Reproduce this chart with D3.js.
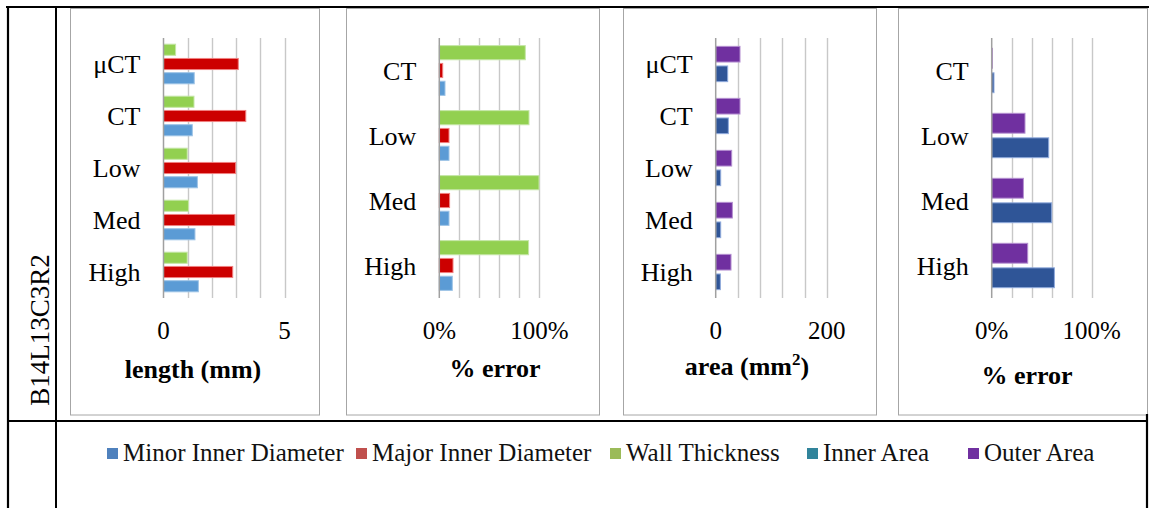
<!DOCTYPE html>
<html>
<head>
<meta charset="utf-8">
<script src="https://cdn.jsdelivr.net/npm/d3@7"></script>
<style>
  body { margin: 0; background: #fff; }
  svg { display: block; font-family: "Liberation Serif", "Times New Roman", serif; }
</style>
</head>
<body>
<div id="chart"></div>
<script>
// categories, listed top to bottom as they appear
const diamCats = ["μCT", "CT", "Low", "Med", "High"];
const errCats = ["CT", "Low", "Med", "High"];

// panel 1 : length (mm)
const minorDiam = [1.27, 1.19, 1.40, 1.30, 1.44];
const majorDiam = [3.09, 3.40, 2.98, 2.95, 2.86];
const wallThick = [0.50, 1.26, 0.98, 1.03, 0.98];

// panel 2 : % error of the lengths
const minorDiamErr = [0.057, 0.097, 0.097, 0.13];
const majorDiamErr = [0.034, 0.097, 0.103, 0.137];
const wallThickErr = [0.86, 0.897, 0.997, 0.893];

// panel 3 : area (mm2)
const innerArea = [21.6, 22.8, 9.0, 9.0, 8.4];
const outerArea = [43.8, 43.8, 28.8, 30.0, 27.6];

// panel 4 : % error of the areas
const innerAreaErr = [0.023, 0.57, 0.60, 0.627];
const outerAreaErr = [0.007, 0.333, 0.317, 0.36];

const seriesNames = ["Minor Inner Diameter", "Major Inner Diameter", "Wall Thickness", "Inner Area", "Outer Area"];
const legendColors = ["#4F81BD", "#C0504D", "#9BBB59", "#31849B", "#7030A0"];

const rowLabel = "B14L13C3R2";

const width = 1149, height = 508;
const svg = d3.select("#chart").append("svg")
    .attr("width", width)
    .attr("height", height);

// bar styles (fill, lighter outline)
const barStyle = {
    minor: { fill: "#5B9BD5", stroke: "#9DC3E6" },
    major: { fill: "#CC0000", stroke: "#F08080" },
    wall:  { fill: "#92D050", stroke: "#C5E6A6" },
    inner: { fill: "#2F5597", stroke: "#8FAADC" },
    outer: { fill: "#7030A0", stroke: "#B48FD0" }
};

const panels = [
    { box: [70, 320], ax: [163.5, 284.5], domain: [0, 5], step: 1, labels: [0, 5], fmt: d => d,
      cats: diamCats, series: [["wall", wallThick], ["major", majorDiam], ["minor", minorDiam]],
      title: "length (mm)", titleX: 193, titleY: 378 },
    { box: [346, 600], ax: [439.3, 539.3], domain: [0, 1], step: 0.2, labels: [0, 1], fmt: d3.format(".0%"),
      cats: errCats, series: [["wall", wallThickErr], ["major", majorDiamErr], ["minor", minorDiamErr]],
      title: "% error", titleX: 495, titleY: 377 },
    { box: [623, 877], ax: [715.7, 826.7], domain: [0, 200], step: 40, labels: [0, 200], fmt: d => d,
      cats: diamCats, series: [["outer", outerArea], ["inner", innerArea]],
      title: "area (mm", sup: "2", tail: ")", titleX: 747, titleY: 375 },
    { box: [898, 1148], ax: [991.7, 1091.7], domain: [0, 1], step: 0.2, labels: [0, 1], fmt: d3.format(".0%"),
      cats: errCats, series: [["outer", outerAreaErr], ["inner", innerAreaErr]],
      title: "% error", titleX: 1027, titleY: 384 }
];

const plotTop = 38, plotBottom = 298;

panels.forEach(p => {
    const g = svg.append("g");

    // panel frame
    g.append("rect")
        .attr("x", p.box[0] + 0.5).attr("y", 8.5)
        .attr("width", p.box[1] - p.box[0] - 1).attr("height", 415 - 8.5)
        .attr("fill", "#fff").attr("stroke", "#A6A6A6").attr("stroke-width", 1);

    const x = d3.scaleLinear().domain(p.domain).range(p.ax);
    const y = d3.scaleBand().domain(p.cats).range([plotTop, plotBottom]);
    const sub = d3.scaleBand().domain(p.series.map(s => s[0]))
        .range([0, y.bandwidth()]).paddingInner(0.15).paddingOuter(0.4);

    // gridlines
    const gridVals = d3.range(p.domain[0] + p.step, p.domain[1] + p.step / 2, p.step);
    g.selectAll(".grid").data(gridVals).enter().append("line")
        .attr("x1", d => Math.round(x(d)) + 0.5).attr("x2", d => Math.round(x(d)) + 0.5)
        .attr("y1", plotTop).attr("y2", plotBottom)
        .attr("stroke", "#C8C8C8").attr("stroke-width", 1.4);

    // bars
    p.series.forEach(([key, vals]) => {
        g.selectAll(".bar-" + key).data(vals).enter().append("rect")
            .attr("x", x(0))
            .attr("y", (d, i) => y(p.cats[i]) + sub(key) + 0.5)
            .attr("width", d => Math.max(0.8, x(d) - x(0)))
            .attr("height", sub.bandwidth() - 1)
            .attr("fill", barStyle[key].fill)
            .attr("stroke", barStyle[key].stroke)
            .attr("stroke-width", 1);
    });

    // value axis line
    g.append("line")
        .attr("x1", x(0)).attr("x2", x(0))
        .attr("y1", plotTop).attr("y2", plotBottom)
        .attr("stroke", "#A0A0A0").attr("stroke-width", 1.5);

    // category labels
    g.selectAll(".cat").data(p.cats).enter().append("text")
        .attr("x", x(0) - 23)
        .attr("y", d => y(d) + y.bandwidth() / 2)
        .attr("dy", "0.35em")
        .attr("text-anchor", "end")
        .attr("font-size", 26)
        .attr("fill", "#000")
        .text(d => d);

    // tick labels
    g.selectAll(".tick").data(p.labels).enter().append("text")
        .attr("x", d => x(d))
        .attr("y", 338.5)
        .attr("text-anchor", "middle")
        .attr("font-size", 25)
        .attr("fill", "#000")
        .text(d => p.fmt(d));

    // axis title
    const t = g.append("text")
        .attr("x", p.titleX).attr("y", p.titleY)
        .attr("text-anchor", "middle")
        .attr("font-size", 26)
        .attr("font-weight", "bold")
        .attr("fill", "#000");
    t.append("tspan").text(p.title);
    if (p.sup) {
        t.append("tspan").attr("font-size", 17).attr("dy", -10).text(p.sup);
        t.append("tspan").attr("dy", 10).text(p.tail);
    }
});

// table lines
const table = svg.append("g").attr("stroke", "#000").attr("fill", "none");
table.append("line").attr("x1", 6).attr("x2", width).attr("y1", 7).attr("y2", 7).attr("stroke-width", 2);
table.append("line").attr("x1", 8).attr("x2", 8).attr("y1", 6).attr("y2", height).attr("stroke-width", 2.2);
table.append("line").attr("x1", 56).attr("x2", 56).attr("y1", 6).attr("y2", height).attr("stroke-width", 2);
table.append("line").attr("x1", 7).attr("x2", 1148).attr("y1", 421).attr("y2", 421).attr("stroke-width", 1.8);
table.append("line").attr("x1", 1147).attr("x2", 1147).attr("y1", 414).attr("y2", height).attr("stroke-width", 2.2);

// row label
svg.append("text")
    .attr("transform", "translate(40,330) rotate(-90)")
    .attr("dy", "0.35em")
    .attr("text-anchor", "middle")
    .attr("font-size", 27)
    .attr("fill", "#000")
    .text(rowLabel);

// legend
const legendX = [107, 356, 610, 807, 968];
const legend = svg.append("g");
seriesNames.forEach((name, i) => {
    legend.append("rect")
        .attr("x", legendX[i]).attr("y", 448)
        .attr("width", 11).attr("height", 11)
        .attr("fill", legendColors[i]);
    legend.append("text")
        .attr("x", legendX[i] + 16).attr("y", 461)
        .attr("font-size", 25)
        .attr("fill", "#111")
        .text(name);
});
</script>
</body>
</html>
